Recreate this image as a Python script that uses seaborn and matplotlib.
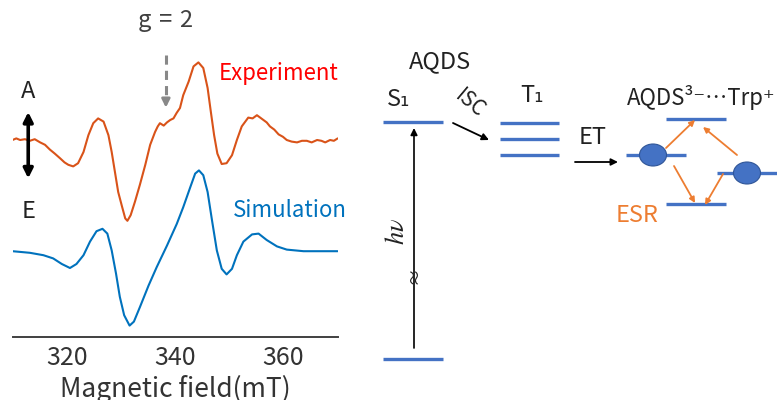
import pandas as pd
import seaborn as sns
import matplotlib.pyplot as plt
from matplotlib.patches import Ellipse

# ESR spectrum (field in mT, signal in a.u.)
exp_field = [310.0, 310.7, 311.4, 312.3, 313.2, 314.1, 315.1, 316.0, 316.9, 317.8, 318.8,
             319.6, 320.3, 321.2, 322.1, 323.1, 324.0, 324.9, 325.8, 326.8, 327.7,
             328.3, 328.9, 329.5, 330.2, 330.8, 331.2, 331.8, 332.6, 333.5, 334.5,
             335.4, 336.3, 336.8, 337.2, 337.9, 338.5, 339.1, 339.7, 340.3, 340.9,
             341.5, 342.5, 343.4, 344.3, 345.2, 346.0, 346.6, 347.2, 347.8, 348.6,
             349.5, 350.5, 351.4, 352.3, 353.5, 354.3, 355.1, 355.7, 356.3, 356.9,
             357.5, 358.3, 359.1, 359.9, 360.6, 361.5, 362.5, 363.4, 364.3, 365.2,
             366.2, 367.0, 367.7, 368.6, 369.3, 370.0]
exp_signal = [0.00, 0.02, 0.00, 0.01, -0.01, 0.01, -0.03, -0.06, -0.12, -0.17, -0.23,
              -0.28, -0.31, -0.33, -0.29, -0.15, 0.06, 0.21, 0.27, 0.23, 0.06,
              -0.15, -0.40, -0.65, -0.83, -0.98, -1.01, -0.94, -0.77, -0.56, -0.31,
              -0.06, 0.10, 0.17, 0.21, 0.18, 0.22, 0.25, 0.27, 0.34, 0.40,
              0.56, 0.73, 0.92, 0.97, 0.90, 0.65, 0.35, 0.06, -0.17, -0.30,
              -0.29, -0.19, 0.00, 0.17, 0.28, 0.27, 0.31, 0.28, 0.25, 0.22,
              0.17, 0.13, 0.07, 0.04, 0.00, -0.02, -0.03, -0.01, -0.01, -0.03,
              0.00, -0.01, -0.03, 0.00, -0.01, 0.02]

sim_field = [310.0, 311.6, 313.2, 315.7, 317.5, 319.1, 320.6, 321.8, 323.1, 324.3,
             325.5, 326.6, 327.5, 328.3, 329.1, 329.8, 330.6, 331.6, 332.4, 333.5,
             335.1, 336.6, 338.5, 339.1, 340.3, 341.5, 342.8, 343.7, 344.4, 345.2,
             346.0, 346.8, 347.7, 348.6, 349.5, 350.5, 351.4, 352.6, 354.2, 355.4,
             356.9, 358.8, 360.6, 363.7, 370.0]
sim_signal = [0.01, 0.00, -0.01, -0.04, -0.08, -0.15, -0.20, -0.15, -0.04, 0.13,
              0.26, 0.29, 0.23, 0.02, -0.27, -0.56, -0.79, -0.92, -0.87, -0.69,
              -0.42, -0.19, 0.08, 0.17, 0.35, 0.56, 0.81, 0.98, 1.02, 0.96,
              0.75, 0.40, 0.02, -0.21, -0.28, -0.21, -0.04, 0.13, 0.22, 0.23,
              0.15, 0.07, 0.03, 0.01, 0.01]

x_ticks = [320, 340, 360]
exp_offset = 1.40
g2_field = 338.3

sns.set_style("white")
plt.rcParams['font.family'] = ['Noto Sans CJK JP', 'DejaVu Sans']

exp_df = pd.DataFrame({"field": exp_field, "signal": [s + exp_offset for s in exp_signal]})
sim_df = pd.DataFrame({"field": sim_field, "signal": sim_signal})

fig = plt.figure(figsize=(7.77, 4.0), dpi=100)
ax = fig.add_axes([0.0161, 0.158, 0.4185, 0.842])

sns.lineplot(data=exp_df, x="field", y="signal", color="#D95319", lw=1.5, ax=ax)
sns.lineplot(data=sim_df, x="field", y="signal", color="#0072BD", lw=1.5, ax=ax)

ax.set_xlim(310, 370)
ax.set_ylim(-1.06, 3.15)
ax.set_xticks(x_ticks)
ax.set_yticks([])
ax.set_ylabel("")
ax.set_xlabel("Magnetic field(mT)", fontsize=19, color="#333333", labelpad=3)
ax.tick_params(axis="x", direction="in", length=5, width=1.4, color="#404040",
               labelsize=18, labelcolor="#333333", pad=6)
for s in ["left", "top", "right"]:
    ax.spines[s].set_visible(False)
ax.spines["bottom"].set_color("#404040")
ax.spines["bottom"].set_linewidth(1.4)
ax.patch.set_alpha(0)

ax.text(348.0, 2.23, "Experiment", color="#FF0000", fontsize=16, ha="left", va="center")
ax.text(350.7, 0.52, "Simulation", color="#0072BD", fontsize=16, ha="left", va="center")
ax.text(g2_field, 2.90, "g\u2004=\u20042", color="#404040", fontsize=17, ha="center", va="center")
ax.plot([g2_field, g2_field], [2.46, 1.90], color="#888888", lw=2.2, ls=(0, (3, 2)))
ax.annotate("", xy=(g2_field, 1.77), xytext=(g2_field, 1.92),
            arrowprops=dict(arrowstyle="-|>", color="#888888", lw=2.0, mutation_scale=12))

ax.text(312.9, 2.0, "A", fontsize=17, ha="center", va="center", color="#222222")
ax.text(312.9, 0.50, "E", fontsize=17, ha="center", va="center", color="#222222")
ax.annotate("", xy=(312.9, 1.75), xytext=(312.9, 0.92),
            arrowprops=dict(arrowstyle="<|-|>", color="black", lw=2.6, mutation_scale=14,
                            shrinkA=0, shrinkB=0))

# energy level diagram (pixel layout)
dg = fig.add_axes([0, 0, 1, 1])
dg.set_xlim(0, 777)
dg.set_ylim(400, 0)
dg.axis("off")
dg.patch.set_alpha(0)

blue = "#4472C4"
orange = "#ED7D31"
levels = [(383, 443, 359), (383, 443, 122),
          (500, 559, 123), (500, 559, 139), (500, 559, 155),
          (626, 686, 155), (666, 726, 119), (666, 726, 204), (717, 777, 173)]
for x0, x1, y in levels:
    dg.plot([x0, x1], [y, y], color=blue, lw=2.4, solid_capstyle="butt")

for cx, cy in [(653, 155), (747, 173)]:
    dg.add_patch(Ellipse((cx, cy), 27, 22, facecolor=blue, edgecolor="#2F5597", lw=0.8, zorder=3))

def arrow(p0, p1, color="black", lw=1.2, ms=10):
    dg.annotate("", xy=p1, xytext=p0,
                arrowprops=dict(arrowstyle="-|>", color=color, lw=lw, mutation_scale=ms,
                                shrinkA=0, shrinkB=0))

arrow((414, 348), (414, 128))
arrow((453, 123), (489, 140), lw=1.3)
arrow((575, 162), (618, 162), lw=1.3)
arrow((666, 148), (695, 120), color=orange, lw=1.3, ms=8)
arrow((737, 155), (703, 127), color=orange, lw=1.3, ms=8)
arrow((674, 166), (695, 203), color=orange, lw=1.3, ms=8)
arrow((723, 174), (705, 205), color=orange, lw=1.3, ms=8)

txt = "#222222"
dg.text(440, 62, "AQDS", fontsize=17, ha="center", va="center", color=txt)
dg.text(387, 100, "S₁", fontsize=17, ha="left", va="center", color=txt)
dg.text(520, 96, "T₁", fontsize=17, ha="left", va="center", color=txt)
dg.text(470, 104, "ISC", fontsize=15, style="italic", rotation=-40, ha="center", va="center", color=txt)
dg.text(593, 138, "ET", fontsize=17, ha="center", va="center", color=txt)
dg.text(396, 231, r"$h\nu$", fontsize=19, rotation=90, ha="center", va="center",
        color=txt, math_fontfamily="stix")
dg.text(415, 275, "≈", fontsize=13, rotation=90, ha="center", va="center", color=txt)
dg.text(627, 97, "AQDS³⁻⋯Trp⁺", fontsize=16, ha="left", va="center", color=txt)
dg.text(637, 216, "ESR", fontsize=17, ha="center", va="center", color=orange)

fig.savefig("out.png", dpi=100)
